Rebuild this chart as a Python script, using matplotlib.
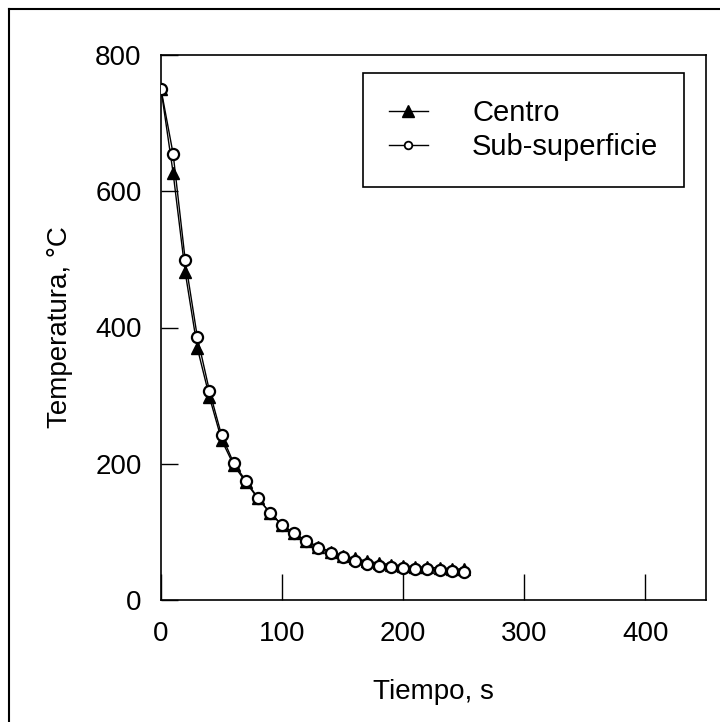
import matplotlib.pyplot as plt
from matplotlib.lines import Line2D

# time (s) and temperatures (C)
tiempo = [0, 10, 20, 30, 40, 50, 60, 70, 80, 90, 100, 110, 120, 130, 140,
          150, 160, 170, 180, 190, 200, 210, 220, 230, 240, 250]
centro = [750, 627, 481, 370, 298, 235, 198, 173, 149, 128, 110, 98, 87, 78, 71,
          65, 61, 57, 54, 52, 50, 49, 48, 47, 46, 45]
subsuperficie = [750, 655, 499, 386, 307, 242, 201, 175, 150, 128, 110, 98, 86, 76, 69,
                 63, 57, 53, 50, 48, 47, 46, 45, 44, 43, 41]

xticks = [0, 100, 200, 300, 400]
yticks = [0, 200, 400, 600, 800]

plt.rcParams['font.family'] = ['Liberation Sans', 'DejaVu Sans']

fig = plt.figure(figsize=(7.2, 7.22), dpi=100)
ax = fig.add_axes([161/720, 1 - 600/722, 545/720, 545/722])

ax.plot(tiempo, centro, color='black', lw=1.0, marker='^', ms=9,
        mfc='black', mec='black', zorder=2)
ax.plot(tiempo, subsuperficie, color='black', lw=1.0, marker='o', ms=8,
        mfc='white', mec='black', mew=1.6, zorder=3)

ax.set_xlim(0, 450)
ax.set_ylim(0, 800)
ax.set_xticks(xticks)
ax.set_yticks(yticks)
ax.tick_params(axis='x', direction='in', length=19, width=1, pad=15, labelsize=20)
ax.tick_params(axis='y', direction='in', length=12, width=1, pad=14, labelsize=20)
for s in ax.spines.values():
    s.set_linewidth(1.2)

ax.set_xlabel('Tiempo, s', fontsize=20, labelpad=23)
ax.set_ylabel('Temperatura, °C', fontsize=20, labelpad=16)

# legend handles: smaller markers than in the plot
h_centro = Line2D([], [], color='black', lw=1.0, marker='^', ms=8, mfc='black', mec='black')
h_sub = Line2D([], [], color='black', lw=1.0, marker='o', ms=5.5, mfc='white',
               mec='black', mew=1.3)
leg = ax.legend([h_centro, h_sub], ['Centro', 'Sub-superficie'],
                loc='upper left', bbox_to_anchor=(0.3706, 0.967), borderaxespad=0,
                fontsize=21, frameon=True, fancybox=False, edgecolor='black',
                framealpha=1, handlelength=1.34, handletextpad=1.51,
                labelspacing=0.2, borderpad=0.89)
leg.get_frame().set_linewidth(1.2)

# outer frame lines (top and left of the picture)
fig.add_artist(Line2D([9/720, 1], [1 - 9/722, 1 - 9/722], color='black', lw=1.5))
fig.add_artist(Line2D([9/720, 9/720], [0, 1 - 9/722], color='black', lw=1.5))

fig.savefig('out.png', dpi=100)
